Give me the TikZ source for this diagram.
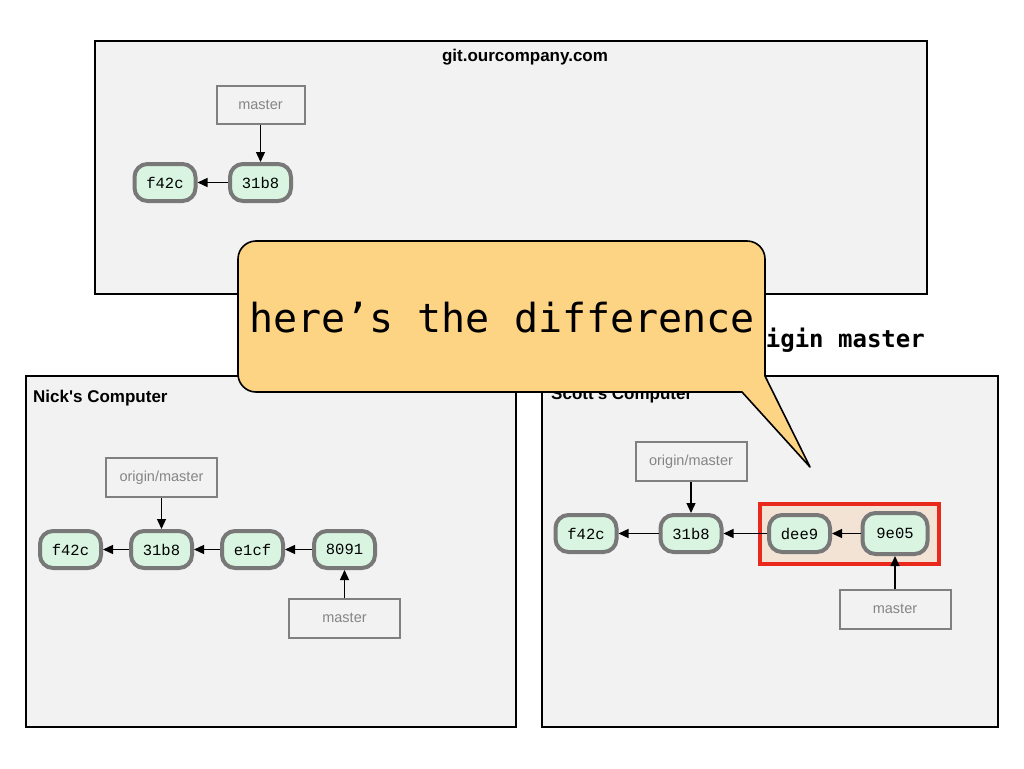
\documentclass[tikz,border=0pt]{standalone}
\usepackage{fontspec}
\setmainfont{Liberation Sans}[Ligatures=TeXOff]
\newfontfamily\commitfont{Liberation Mono}
\newfontfamily\calloutfont{DejaVu Sans Mono}
\usetikzlibrary{arrows.meta}
\definecolor{panel}{HTML}{F2F2F2}
\definecolor{commitfill}{HTML}{D9F5E1}
\definecolor{commitgray}{HTML}{787878}
\definecolor{refgray}{HTML}{808080}
\definecolor{reftext}{HTML}{858585}
\definecolor{calloutfill}{HTML}{FDD384}
\definecolor{diffred}{HTML}{E8291C}
\definecolor{difffill}{HTML}{F2E3D4}
\begin{document}
\begin{tikzpicture}[x=1pt,y=-1pt,
  panelbox/.style={draw=black, line width=2pt, fill=panel, inner sep=0pt},
  paneltitle/.style={font=\bfseries\fontsize{17}{17}\selectfont, inner sep=0pt},
  commit/.style={draw=commitgray, line width=4pt, fill=commitfill, rounded corners=13pt,
     minimum width=61pt, minimum height=37pt, inner sep=0pt,
     font=\commitfont\fontsize{15.5}{15.5}\selectfont},
  refbox/.style={draw=refgray, line width=2pt, fill=panel, inner sep=0pt,
     minimum width=111pt, minimum height=39pt, text=reftext,
     font=\fontsize{14.5}{14.5}\selectfont},
  arr/.style={-{Triangle[length=10pt,width=9pt]}, line width=1.3pt, black},
]
\useasboundingbox[fill=white] (0,0) rectangle (1024,768);

% ---------- panels ----------
\node[panelbox, minimum width=832pt, minimum height=253pt] (server) at (511,167.5) {};
\node[paneltitle] (servertitle) at (525,57) {git.ourcompany.com};

\node[font=\calloutfont\bfseries\fontsize{24}{24}\selectfont, inner sep=0pt, anchor=base east] (cmd) at (925,347) {igin master};

\node[panelbox, minimum width=490pt, minimum height=351pt] (nick) at (271,551.5) {};
\node[paneltitle, anchor=base west] (nicktitle) at (33,402) {Nick's Computer};

\node[panelbox, minimum width=456pt, minimum height=351pt] (scott) at (770,551.5) {};
\node[paneltitle, anchor=base west] (scotttitle) at (551,399) {Scott's Computer};

% ---------- server ----------
\node[refbox, minimum width=88pt, minimum height=38pt] (smaster) at (260.5,105) {master};
\node[commit] (sf42c) at (165,182.5) {f42c};
\node[commit] (s31b8) at (260.5,182.5) {31b8};
\draw[arr] (s31b8) -- (sf42c);
\draw[arr] (smaster) -- (s31b8);

% ---------- Nick ----------
\node[refbox] (norigin) at (161.5,477.5) {origin/master};
\node[commit] (nf42c) at (70.5,549.5) {f42c};
\node[commit] (n31b8) at (161.5,549.5) {31b8};
\node[commit] (ne1cf) at (252.5,549.5) {e1cf};
\node[commit] (n8091) at (344.5,549.5) {8091};
\node[refbox] (nmaster) at (344.5,618) {master};
\draw[arr] (n31b8) -- (nf42c);
\draw[arr] (ne1cf) -- (n31b8);
\draw[arr] (n8091) -- (ne1cf);
\draw[arr] (norigin) -- (n31b8);
\draw[arr] (nmaster) -- (n8091);

% ---------- Scott ----------
\node[draw=diffred, line width=4pt, fill=difffill, minimum width=179pt, minimum height=60pt, inner sep=0pt] (diff) at (849.5,534) {};
\node[refbox] (sorigin) at (691,461.5) {origin/master};
\node[commit] (cf42c) at (586,533.5) {f42c};
\node[commit] (c31b8) at (691,533.5) {31b8};
\node[commit] (cdee9) at (799.5,533.5) {dee9};
\node[commit, minimum width=65pt, minimum height=41pt] (c9e05) at (895,533.5) {9e05};
\node[refbox] (cmaster) at (895,609) {master};
\draw[arr] (c31b8) -- (cf42c);
\draw[arr] (cdee9) -- (c31b8);
\draw[arr] (c9e05) -- (cdee9);
\draw[arr] (sorigin) -- (c31b8);
\draw[arr] (cmaster) -- (c9e05);

% ---------- callout ----------
\draw[line width=1.6pt, fill=calloutfill, line join=round]
  (238,300) [rounded corners=18pt] -- (238,241) -- (765,241) -- (765,300)
  [sharp corners] -- (765,376) -- (810,467) -- (742,392) -- (400,392)
  [rounded corners=18pt] -- (238,392) -- cycle;
\node[font=\calloutfont\fontsize{40}{40}\selectfont, inner sep=0pt, anchor=base west] (callout) at (249,332) {here’s the difference};
\end{tikzpicture}
\end{document}
